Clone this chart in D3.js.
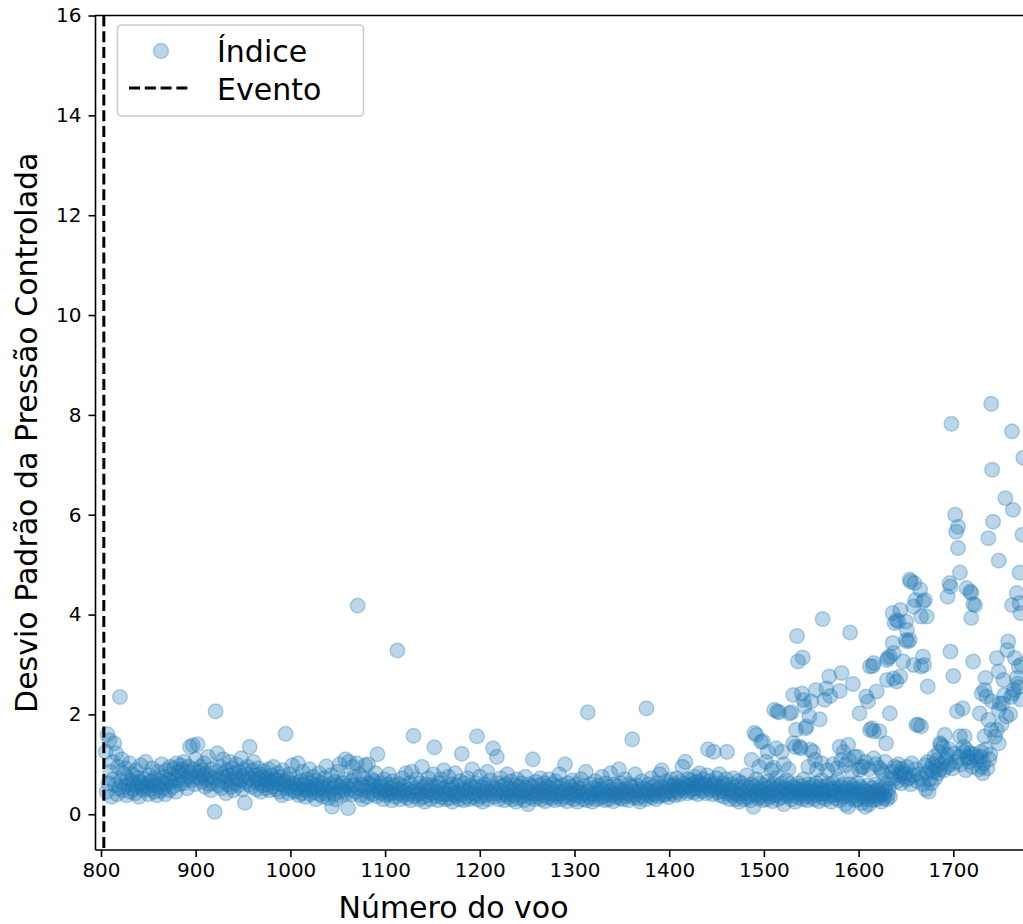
<!DOCTYPE html>
<html>
<head>
<meta charset="utf-8">
<script src="https://cdn.jsdelivr.net/npm/d3@7"></script>
<style>
  body { margin: 0; background: #fff; }
  svg { display: block; font-family: "DejaVu Sans", sans-serif; }
</style>
</head>
<body>
<svg id="chart" width="1023" height="924"></svg>
<script>

// primeiro voo da série principal: um valor por voo (805 ... 1634)
const primeiroVoo = 805;
const indiceBase = [
  1.25, 0.45, 1.6, 0.62, 1.48, 0.85, 0.35, 1.05, 0.7, 1.42,
  0.58, 1.22, 0.4, 0.95, 0.52, 2.35, 0.66, 1.1, 0.48, 0.82,
  0.55, 0.92, 0.38, 0.71, 0.6, 1.02, 0.45, 0.68, 0.8, 0.5,
  0.62, 0.42, 0.88, 0.57, 0.73, 0.35, 0.65, 0.98, 0.52, 0.6,
  0.48, 0.7, 1.05, 0.55, 0.62, 0.4, 0.78, 0.5, 0.66, 0.92,
  0.58, 0.45, 0.72, 0.6, 0.38, 0.85, 0.55, 0.68, 0.47, 1.0,
  0.62, 0.52, 0.75, 0.4, 0.88, 0.6, 0.7, 0.48, 0.95, 0.66,
  0.8, 0.55, 0.92, 0.72, 0.45, 1.02, 0.68, 0.85, 0.6, 0.98,
  0.78, 0.9, 0.62, 1.05, 0.7, 0.85, 0.52, 0.95, 0.75, 1.35,
  0.82, 0.68, 1.38, 0.9, 0.6, 1.1, 0.75, 1.4, 0.85, 0.72,
  0.95, 0.65, 0.88, 0.78, 1.02, 0.55, 0.82, 0.7, 1.15, 0.6,
  0.75, 0.48, 0.9, 0.62, 0.72, 0.05, 2.06, 0.85, 1.22, 0.58,
  0.7, 0.95, 0.52, 0.8, 1.1, 0.65, 0.75, 0.42, 0.88, 0.6,
  0.78, 1.05, 0.55, 0.7, 0.92, 0.48, 0.82, 0.62, 1.0, 0.72,
  0.58, 0.85, 0.68, 1.12, 0.5, 0.76, 0.9, 0.23, 0.65, 0.8,
  0.95, 0.6, 1.35, 0.72, 0.55, 0.88, 1.05, 0.66, 0.78, 0.5,
  0.7, 0.92, 0.62, 0.8, 0.45, 0.75, 0.58, 0.86, 0.68, 0.52,
  0.72, 0.6, 0.9, 0.48, 0.66, 0.78, 0.55, 0.95, 0.62, 0.7,
  0.5, 0.68, 0.82, 0.45, 0.6, 0.75, 0.38, 0.88, 0.58, 0.65,
  1.61, 0.52, 0.7, 0.42, 0.8, 0.55, 0.62, 0.98, 0.48, 0.6,
  0.45, 0.72, 0.52, 1.02, 0.38, 0.58, 0.66, 0.42, 0.85, 0.5,
  0.6, 0.35, 0.7, 0.48, 0.55, 0.9, 0.4, 0.62, 0.52, 0.75,
  0.44, 0.58, 0.3, 0.68, 0.5, 0.82, 0.4, 0.55, 0.62, 0.36,
  0.5, 0.72, 0.42, 0.96, 0.55, 0.32, 0.6, 0.45, 0.78, 0.15,
  0.52, 0.4, 0.65, 0.3, 0.58, 0.85, 0.45, 1.0, 0.55, 0.38,
  0.62, 0.48, 0.7, 1.1, 0.42, 0.56, 0.12, 1.05, 0.5, 0.66,
  0.4, 0.95, 0.58, 0.75, 0.45, 1.02, 4.18, 0.52, 0.8, 0.38,
  0.6, 0.3, 0.72, 0.48, 0.98, 0.55, 0.35, 1.0, 0.62, 0.44,
  0.58, 0.7, 0.4, 0.66, 0.5, 0.82, 0.36, 1.2, 0.54, 0.45,
  0.62, 0.42, 0.55, 0.3, 0.7, 0.48, 0.38, 0.6, 0.45, 0.8,
  0.4, 0.52, 0.28, 0.66, 0.44, 0.58, 0.35, 0.5, 3.28, 0.42,
  0.6, 0.3, 0.48, 0.72, 0.38, 0.55, 0.45, 0.82, 0.33, 0.5,
  0.4, 0.62, 0.28, 0.85, 0.45, 1.57, 0.36, 0.52, 0.7, 0.4,
  0.48, 0.3, 0.62, 0.42, 0.95, 0.35, 0.55, 0.25, 0.6, 0.46,
  0.38, 0.72, 0.5, 0.3, 0.58, 0.42, 0.8, 1.34, 0.36, 0.55,
  0.45, 0.28, 0.62, 0.4, 0.7, 0.34, 0.52, 0.88, 0.42, 0.3,
  0.56, 0.4, 0.75, 0.32, 0.48, 0.6, 0.25, 0.52, 0.4, 0.82,
  0.36, 0.58, 0.44, 0.3, 0.66, 0.4, 1.21, 0.5, 0.28, 0.62,
  0.45, 0.35, 0.72, 0.5, 0.3, 0.58, 0.42, 0.9, 0.34, 0.55,
  0.4, 0.62, 1.56, 0.3, 0.48, 0.75, 0.36, 0.55, 0.25, 0.45,
  0.6, 0.38, 0.52, 0.85, 0.3, 0.46, 0.68, 0.4, 0.55, 1.32,
  0.35, 0.5, 0.42, 1.15, 0.62, 0.3, 0.48, 0.72, 0.38, 0.56,
  0.44, 0.28, 0.6, 0.4, 0.8, 0.35, 0.52, 0.45, 0.66, 0.3,
  0.5, 0.38, 0.58, 0.25, 0.7, 0.42, 0.32, 0.55, 0.46, 0.62,
  0.36, 0.48, 0.28, 0.75, 0.4, 0.52, 0.2, 0.6, 0.44, 0.34,
  0.56, 1.1, 0.4, 0.3, 0.65, 0.46, 0.35, 0.58, 0.42, 0.72,
  0.3, 0.5, 0.38, 0.62, 0.26, 0.45, 0.55, 0.34, 0.7, 0.42,
  0.52, 0.32, 0.6, 0.4, 0.28, 0.66, 0.45, 0.36, 0.55, 0.8,
  0.4, 0.3, 0.58, 0.46, 0.35, 1.0, 0.5, 0.26, 0.62, 0.42,
  0.34, 0.55, 0.4, 0.68, 0.3, 0.48, 0.38, 0.6, 0.25, 0.45,
  0.52, 0.36, 0.7, 0.42, 0.3, 0.56, 0.4, 0.85, 0.28, 2.04,
  0.46, 0.34, 0.6, 0.4, 0.25, 0.52, 0.38, 0.66, 0.3, 0.48,
  0.42, 0.58, 0.32, 0.5, 0.75, 0.36, 0.45, 0.28, 0.62, 0.4,
  0.54, 0.3, 0.46, 0.82, 0.38, 0.5, 0.26, 0.6, 0.42, 0.35,
  0.56, 0.4, 0.9, 0.32, 0.48, 0.62, 0.3, 0.44, 0.7, 0.36,
  0.5, 0.42, 0.28, 0.6, 0.38, 0.55, 1.5, 0.34, 0.46, 0.8,
  0.4, 0.58, 0.32, 0.5, 0.25, 0.45, 0.66, 0.36, 0.52, 0.42,
  0.3, 2.12, 0.48, 0.6, 0.38, 0.44, 0.72, 0.34, 0.55, 0.4,
  0.46, 0.3, 0.62, 0.5, 0.36, 0.8, 0.42, 0.88, 0.55, 0.38,
  0.52, 0.4, 0.66, 0.45, 0.34, 0.58, 0.48, 0.7, 0.42, 0.55,
  0.6, 0.38, 0.5, 0.72, 0.45, 0.56, 0.4, 0.65, 0.52, 0.95,
  0.48, 0.62, 1.05, 0.55, 0.42, 0.7, 0.58, 0.46, 0.68, 0.5,
  0.6, 0.44, 0.75, 0.52, 0.65, 0.4, 0.58, 0.82, 0.5, 0.62,
  0.46, 0.7, 0.55, 0.6, 0.42, 0.78, 1.3, 0.52, 0.66, 0.48,
  0.58, 0.4, 1.25, 0.62, 0.5, 0.72, 0.44, 0.56, 0.8, 0.38,
  0.52, 0.46, 0.62, 0.35, 0.58, 0.7, 1.25, 0.42, 0.5, 0.3,
  0.48, 0.6, 0.38, 0.72, 0.44, 0.3, 0.55, 0.4, 0.66, 0.25,
  0.5, 0.36, 0.62, 0.42, 0.3, 0.56, 0.45, 0.78, 0.34, 0.52,
  0.4, 0.28, 0.6, 0.46, 0.15, 0.55, 0.38, 0.7, 0.42, 0.32,
  0.5, 0.62, 0.36, 0.45, 0.28, 0.58, 0.4, 0.52, 0.3, 0.66,
  0.42, 0.35, 0.55, 0.46, 0.26, 0.6, 0.38, 0.5, 0.72, 0.4,
  0.3, 0.56, 0.44, 0.34, 0.62, 0.48, 0.2, 0.52, 0.4, 0.68,
  0.36, 0.5, 0.42, 0.6, 0.3, 0.46, 0.55, 0.38, 0.25, 0.52,
  0.44, 0.62, 0.34, 0.48, 0.4, 0.56, 0.3, 0.7, 0.45, 0.36,
  0.5, 0.28, 0.6, 0.42, 0.52, 0.35, 0.46, 0.58, 0.3, 0.44,
  0.62, 0.38, 0.5, 0.26, 0.55, 0.42, 0.68, 0.34, 0.48, 0.4,
  0.3, 0.56, 0.44, 0.6, 0.36, 0.5, 0.25, 0.46, 0.62, 0.38,
  0.52, 0.32, 0.45, 0.7, 0.4, 0.28, 0.55, 0.42, 0.35, 0.6,
  0.46, 0.2, 0.52, 0.38, 0.15, 0.48, 0.6, 0.32, 0.44, 0.55,
  0.36, 0.5, 0.28, 0.42, 0.62, 0.3, 0.45, 0.55, 0.22, 0.4,
  0.5, 0.34, 0.15, 0.46, 0.3, 0.58, 0.2, 0.42, 0.36, 0.52,
  0.28, 0.45, 0.38, 0.6, 0.3, 0.48, 0.35, 0.55, 0.42, 0.25,
  0.5, 0.38, 0.32, 0.45, 0.6, 0.3, 0.4, 0.52, 0.35, 0.72
];

// pontos dispersos da fase final (voo, índice)
const voosExtra = [
  1487, 1490, 1492, 1497, 1499, 1504, 1510, 1511, 1513, 1514, 1516, 1519, 1527, 1529, 1531, 1531,
  1533, 1534, 1535, 1536, 1538, 1539, 1540, 1541, 1542, 1543, 1544, 1545, 1548, 1549, 1550, 1552,
  1554, 1555, 1556, 1559, 1562, 1564, 1566, 1569, 1570, 1580, 1582, 1580, 1582, 1584, 1589, 1590,
  1591, 1594, 1596, 1599,
  1495, 1502, 1508, 1521, 1526, 1547, 1561, 1567, 1573, 1577, 1586, 1593, 1603, 1607, 1611, 1618,
  1624, 1628,
  1601, 1601, 1605, 1608, 1610, 1612, 1612, 1615, 1616, 1614, 1616, 1616, 1619, 1622, 1622, 1626,
  1629, 1630, 1630, 1631, 1633, 1633,
  1636, 1636, 1637, 1637, 1638, 1640, 1640, 1641, 1642, 1644, 1644, 1645, 1647, 1650, 1650, 1651,
  1651, 1652, 1654, 1654, 1655, 1658, 1658, 1659, 1660, 1661, 1663, 1665, 1666, 1666, 1666, 1668,
  1668, 1669, 1670, 1672, 1673,
  1635, 1637, 1638, 1640, 1642, 1643, 1645, 1646, 1648, 1649, 1651, 1653, 1655, 1656, 1658, 1660,
  1662, 1664, 1666, 1668, 1670, 1671, 1672, 1673, 1674, 1675, 1676, 1677, 1678, 1679, 1680, 1681,
  1682, 1683, 1684, 1685, 1686, 1688, 1689, 1690, 1692, 1693, 1694, 1696, 1697, 1699, 1701, 1703,
  1706, 1708, 1711, 1713, 1715, 1717, 1720, 1722, 1725, 1727, 1729, 1732, 1734, 1736, 1738, 1739,
  1686, 1687, 1691, 1694, 1696, 1697, 1697, 1698, 1700, 1702, 1703, 1704, 1705, 1705, 1707, 1707,
  1710, 1711, 1712, 1714, 1714, 1716, 1718, 1718, 1719, 1719, 1721, 1721, 1723, 1724, 1728, 1729,
  1730, 1730, 1731, 1733, 1733, 1734, 1735, 1737, 1737, 1740, 1740, 1741, 1741, 1742, 1744, 1746,
  1746, 1748, 1748, 1748, 1748, 1749, 1751, 1752, 1753, 1754, 1755, 1756, 1757, 1758, 1760, 1761,
  1762, 1762, 1763, 1763, 1764, 1765, 1767, 1767, 1768, 1769, 1769, 1770, 1770, 1771, 1771, 1772,
  1774, 1773
];
const indiceExtra = [
  1.09, 1.63, 1.59, 1.45, 1.46, 1.25, 0.93, 2.09, 1.32, 2.06, 2.04, 1.25, 2.02, 2.04, 2.39, 1.42,
  1.35, 1.69, 3.57, 3.06, 1.35, 1.32, 2.42, 3.14, 2.29, 2.16, 1.72, 1.76, 1.96, 1.29, 2.26, 1.25,
  1.09, 2.49, 0.89, 1.9, 3.91, 2.29, 2.52, 2.76, 2.37, 2.47, 2.83, 1.35, 1.09, 1.25, 1.39, 1.09,
  3.64, 2.61, 1.15, 1.15,
  0.95, 1.05, 0.88, 1.0, 0.9, 0.95, 1.02, 0.88, 1.0, 0.92, 0.98, 0.85, 0.95, 1.05, 0.9, 1.0,
  0.88, 1.05,
  2.02, 0.89, 0.95, 2.36, 2.26, 2.96, 1.69, 2.97, 3.03, 1.72, 1.66, 1.12, 2.46, 1.66, 0.93, 0.82,
  1.42, 2.69, 3.09, 3.13, 2.02, 3.16,
  3.43, 4.03, 2.72, 3.23, 3.83, 2.66, 3.89, 0.92, 3.86, 4.09, 2.76, 0.82, 3.06, 3.49, 3.86, 3.69,
  0.69, 3.46, 3.49, 4.7, 4.66, 4.16, 2.99, 4.63, 4.29, 1.79, 1.79, 4.5, 3.96, 2.96, 1.76, 4.26,
  3.16, 2.99, 4.29, 3.96, 2.56,
  0.85, 0.7, 0.95, 0.65, 1.0, 0.78, 0.62, 0.9, 0.75, 0.82, 0.95, 0.72, 0.6, 1.02, 0.78, 0.9,
  0.66, 0.8, 0.72, 0.6, 0.98, 0.5, 0.82, 1.05, 0.45, 0.7, 0.9, 0.62, 1.0, 0.85, 1.15, 0.72,
  0.95, 1.08, 0.82, 1.25, 0.9, 1.02, 1.35, 0.88, 1.1, 0.95, 1.18, 1.3, 1.0, 0.92, 1.22, 1.05,
  1.15, 1.0, 1.25, 0.88, 1.12, 1.05, 0.95, 1.2, 1.08, 0.9, 1.15, 1.02, 1.3, 0.92, 1.1, 1.2,
  1.42, 1.39, 1.59, 4.36, 4.63, 4.56, 3.26, 7.82, 2.77, 6.0, 5.66, 2.06, 5.33, 5.76, 4.84, 1.56,
  2.12, 1.35, 1.56, 4.53, 1.29, 1.15, 4.46, 1.22, 4.43, 3.93, 4.21, 3.06, 4.19, 1.15, 2.02, 1.25,
  2.42, 0.95, 0.82, 2.49, 1.56, 2.73, 2.36, 1.89, 5.53, 8.22, 1.69, 6.9, 2.26, 5.86, 1.55, 3.13,
  1.69, 1.42, 5.08, 2.86, 2.09, 2.22, 1.8, 2.22, 2.69, 2.39, 6.33, 1.96, 3.29, 3.46, 2.0, 2.35,
  7.67, 4.19, 6.1, 2.42, 2.49, 3.13, 4.43, 2.73, 2.62, 2.96, 2.55, 4.84, 4.23, 4.03, 2.3, 3.0,
  7.14, 5.6
];

const vooEvento = 803;
const xTicks = [800, 900, 1000, 1100, 1200, 1300, 1400, 1500, 1600, 1700];
const yTicks = [0, 2, 4, 6, 8, 10, 12, 14, 16];

const azul = "#1f77b4";

let svg = d3.select("#chart");

let plotLeft = 95.5, plotTop = 15.5, plotBottom = 850, plotRight = 1048;

let x = d3.scaleLinear().domain([794.2, 1800]).range([plotLeft, plotRight]);
let y = d3.scaleLinear().domain([-0.716, 16]).range([plotBottom, plotTop]);

let pontos = indiceBase.map((v, i) => ({ voo: primeiroVoo + i, valor: v }))
    .concat(voosExtra.map((v, i) => ({ voo: v, valor: indiceExtra[i] })));

svg.append("clipPath")
    .attr("id", "area")
    .append("rect")
    .attr("x", plotLeft)
    .attr("y", plotTop)
    .attr("width", plotRight - plotLeft)
    .attr("height", plotBottom - plotTop);

// pontos
svg.append("g")
    .attr("clip-path", "url(#area)")
    .selectAll("circle")
    .data(pontos)
    .join("circle")
    .attr("cx", d => x(d.voo))
    .attr("cy", d => y(d.valor))
    .attr("r", 7.3)
    .style("fill", azul)
    .style("fill-opacity", 0.3)
    .style("stroke", azul)
    .style("stroke-opacity", 0.3)
    .style("stroke-width", 1.5);

// linha do evento
svg.append("line")
    .attr("x1", x(vooEvento))
    .attr("x2", x(vooEvento))
    .attr("y1", plotTop)
    .attr("y2", plotBottom)
    .style("stroke", "#000")
    .style("stroke-width", 3)
    .style("stroke-dasharray", "11,4.8");

// eixos
let xAxis = svg.append("g")
    .attr("transform", "translate(0," + plotBottom + ")")
    .call(d3.axisBottom(x).tickValues(xTicks).tickFormat(d3.format("d")).tickSize(7).tickPadding(6));

let yAxis = svg.append("g")
    .attr("transform", "translate(" + plotLeft + ",0)")
    .call(d3.axisLeft(y).tickValues(yTicks).tickFormat(d3.format("d")).tickSize(7).tickPadding(7));

[xAxis, yAxis].forEach(a => {
    a.select(".domain").remove();
    a.selectAll(".tick line").style("stroke", "#000").style("stroke-width", 1.6);
    a.selectAll(".tick text")
        .style("font-family", "DejaVu Sans")
        .style("font-size", "20px")
        .style("fill", "#000");
});

// molduras
svg.append("path")
    .attr("d", "M" + plotLeft + "," + plotBottom + "V" + plotTop + "H" + plotRight + "M" + plotLeft + "," + plotBottom + "H" + plotRight)
    .style("fill", "none")
    .style("stroke", "#000")
    .style("stroke-width", 1.6);

// rótulos
svg.append("text")
    .attr("x", 453.5)
    .attr("y", 918)
    .attr("text-anchor", "middle")
    .style("font-size", "30px")
    .text("Número do voo");

svg.append("text")
    .attr("transform", "translate(37," + (plotTop + plotBottom) / 2 + ") rotate(-90)")
    .attr("text-anchor", "middle")
    .style("font-size", "30px")
    .text("Desvio Padrão da Pressão Controlada");

// legenda
let legenda = svg.append("g");

legenda.append("rect")
    .attr("x", 117.5)
    .attr("y", 25)
    .attr("width", 246)
    .attr("height", 91)
    .attr("rx", 4)
    .style("fill", "#fff")
    .style("fill-opacity", 0.8)
    .style("stroke", "#cccccc")
    .style("stroke-width", 1.6);

legenda.append("circle")
    .attr("cx", 161)
    .attr("cy", 51)
    .attr("r", 7.5)
    .style("fill", azul)
    .style("fill-opacity", 0.3)
    .style("stroke", azul)
    .style("stroke-opacity", 0.3)
    .style("stroke-width", 1.5);

legenda.append("line")
    .attr("x1", 129)
    .attr("x2", 191)
    .attr("y1", 88)
    .attr("y2", 88)
    .style("stroke", "#000")
    .style("stroke-width", 3)
    .style("stroke-dasharray", "11,4.8");

legenda.selectAll("text")
    .data(["Índice", "Evento"])
    .join("text")
    .attr("x", 217)
    .attr("y", (d, i) => 62 + i * 38)
    .style("font-size", "30px")
    .text(d => d);

</script>
</body>
</html>
